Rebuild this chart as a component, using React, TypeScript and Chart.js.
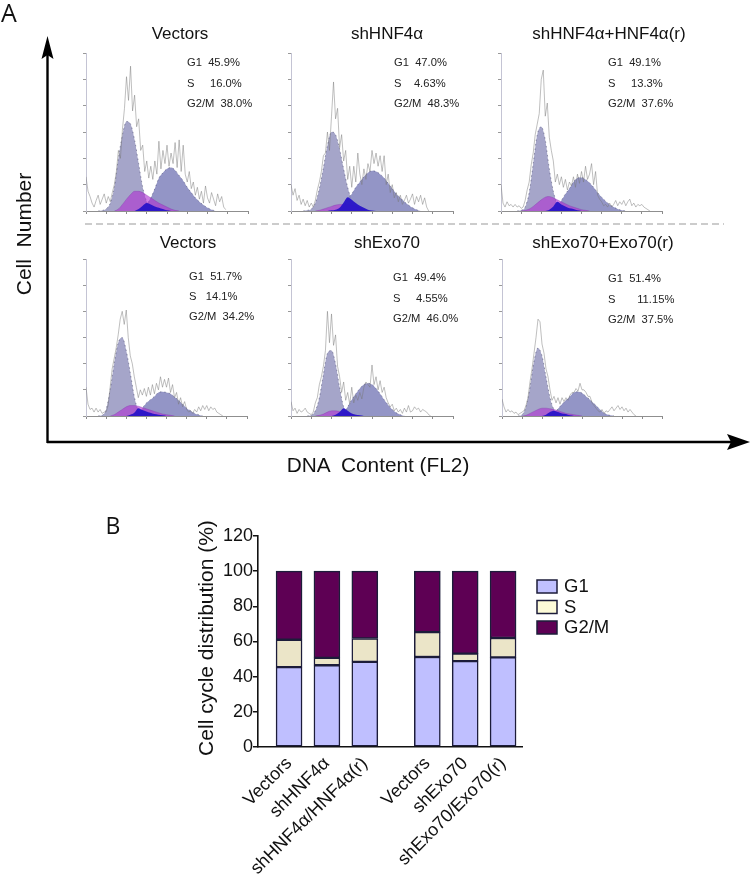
import React, { useEffect, useRef } from "react";
import { Chart, registerables } from "chart.js";

Chart.register(...registerables);

const SANS = '"Liberation Sans", Arial, sans-serif';

// ---------- Panel A: histogram traces (raw every 5 channels, fits every 10 channels) ----------
const rawVec1 = [26,15,11,6,3,8,12,5,9,13,6,11,7,14,20,30,46,40,62,78,102,84,110,76,88,64,70,46,50,30,38,25,34,24,38,28,53,32,46,36,50,34,44,36,52,33,54,30,50,28,22,30,17,22,12,18,9,15,6,19,10,6,14,9,4,13,7,11,3,1];
const g1Vec1 = [0,0,0,0,0.4,1.7,6,18,40,58,68,66,54,36,18,7,2,0.4,0];
const sVec1 = [0,0,0,0,0,0,0,0,1.5,5,9,12.5,15,15,14,12,10,8,6,4.5,3,1.5,0.5,0];
const g2Vec1 = [0,0,0,0,0,0,0,0,0,0,0,0,0,0,1,5,10,17,25,29,32,33,31,27,23,18,14,10,7,4.5,2.5,1,0];
const ovVec1 = [0,0,0,0,0,0,0,0,0,0,0,0,0,1.5,4,6,5,3.5,2.5,1.5,0.5,0];

const rawHnf = [20,12,17,8,12,5,9,4,8,3,6,3,8,16,22,30,42,44,60,46,72,98,70,78,48,58,38,46,24,34,18,34,22,44,28,20,32,24,36,30,46,36,44,34,42,30,42,20,28,14,20,10,14,7,12,5,8,12,6,9,13,5,11,7,12,5,10,3,0];
const g1Hnf = [0,0,0,0,0.5,1.5,6,17,33,50,60,58,47,32,18,8,3,1,0];
const sHnf = [0,0,0,0,0,0,0,0.5,1.5,2.5,3.5,4.5,5,5,5,4.5,3.5,2.5,1,0];
const g2Hnf = [0,0,0,0,0,0,0,0,0,0,0,0,0,3,9,13,18,22,26,29,30.5,30,28,25,21,17,13,10,7,4.5,2.5,1,0];
const ovHnf = [0,0,0,0,0,0,0,0,0,0,0.5,1,2.5,6.5,10.5,8.5,6,4,2.5,1,0.3,0];

const rawHnfR = [20,6,3,7,4,5,3,5,3,4,2,3,8,16,22,35,44,58,66,74,100,107,72,82,56,46,38,22,28,20,26,18,24,16,22,19,26,18,28,21,30,22,34,24,28,36,20,30,12,9,7,4,5,3,6,3,5,8,4,7,5,8,4,7,9,4,6,3,5,4,5,3,2,1,0];
const g1HnfR = [0,0,0,0,0,0.5,3,14,36,58,64,54,32,15,5,1,0];
const sHnfR = [0,0,0,0,0,0,0.5,1.5,3.5,6,8.5,10.5,11,10,8.5,7,5.5,4,3,2,1,0.5,0];
const g2HnfR = [0,0,0,0,0,0,0,0,0,0,0,0,0,0.5,3,8,13,17,22,25,25.5,24,21.5,18,14,10.5,7.5,5,3,1.5,0.5,0];
const ovHnfR = [0,0,0,0,0,0,0,0,0,0,0,0,1,3.5,7,5,3.5,2,1.5,0.5,0];

const rawVec2 = [22,9,5,6,3,6,3,5,2,3,3,8,22,36,44,52,62,74,80,70,81,60,46,40,30,22,14,20,16,21,15,22,16,24,17,25,20,30,22,28,22,29,18,24,14,18,9,14,7,11,5,3,4,2,5,3,7,4,8,5,8,4,7,5,6,3,2,1,0];
const g1Vec2 = [0,0,0,0,0.5,5,20,40,56,60,50,33,15,4,1,0];
const sVec2 = [0,0,0,0,0,0,0,1,3,5,7,8,8,7.5,6.5,5.5,4.5,3.5,2.5,1.5,1,0.5,0];
const g2Vec2 = [0,0,0,0,0,0,0,0,0,0,0,0,0,1,6,10,12.5,15,18,18.5,18,17,14.5,12,9,6,4,2,1,0];
const ovVec2 = [0,0,0,0,0,0,0,0,0,0,0,1,2.5,6,4.5,3.5,2.5,1.5,1,0.5,0];

const rawExo = [11,4,6,2,5,3,4,6,3,2,1,3,10,14,24,30,38,50,80,56,78,54,62,38,30,18,26,12,18,9,22,10,16,12,18,13,22,26,24,22,39,24,30,20,27,18,22,14,10,7,9,4,6,3,5,2,6,3,8,3,4,7,5,6,3,5,4,3,1,0];
const g1Exo = [0,0,0,0,0,0.5,4,14,32,48,50,40,22,7,1.5,0.5,0];
const sExo = [0,0,0,0,0,0,0,0.5,1.5,3,4,4,3.5,3,2.5,1.5,0.5,0];
const g2Exo = [0,0,0,0,0,0,0,0,0,0,0,0,0,2,7,12.5,17,21,24,25,24,21,17,12.5,8.5,5,2.5,1,0];
const ovExo = [0,0,0,0,0,0,0,0,0,0,0,1,3,6,4,2,1,0.5,0];

const rawExoR = [13,7,3,5,3,4,2,3,1,2,3,4,8,14,26,36,48,60,74,72,55,48,36,30,20,12,15,10,14,9,14,11,14,12,16,18,18,21,19,25,20,20,18,15,15,10,8,6,4,3,5,2,4,3,5,7,4,6,8,5,7,4,6,3,5,3,1,0];
const g1ExoR = [0,0,0,0,0,1,7,22,42,52,46,30,14,5,1.5,0.5,0];
const sExoR = [0,0,0,0,0,0,0.5,2,3.5,5,6,6,5.5,5,4,3,2,1.5,1,0.5,0];
const g2ExoR = [0,0,0,0,0,0,0,0,0,0,0,0,0,2,5.5,9,12,15,18,18.5,17.5,15,12.5,9.5,6.5,3.5,1.5,0.5,0];
const ovExoR = [0,0,0,0,0,0,0,0,0,0,0,1,3,4,3,2,1.5,0.5,0];

const histPanels = [
  { title: "Vectors", raw: rawVec1, g1: g1Vec1, s: sVec1, g2: g2Vec1, ov: ovVec1, stats: ["G1  45.9%", "S     16.0%", "G2/M  38.0%"] },
  { title: "shHNF4α", raw: rawHnf, g1: g1Hnf, s: sHnf, g2: g2Hnf, ov: ovHnf, stats: ["G1  47.0%", "S    4.63%", "G2/M  48.3%"] },
  { title: "shHNF4α+HNF4α(r)", raw: rawHnfR, g1: g1HnfR, s: sHnfR, g2: g2HnfR, ov: ovHnfR, stats: ["G1  49.1%", "S     13.3%", "G2/M  37.6%"] },
  { title: "Vectors", raw: rawVec2, g1: g1Vec2, s: sVec2, g2: g2Vec2, ov: ovVec2, stats: ["G1  51.7%", "S   14.1%", "G2/M  34.2%"] },
  { title: "shExo70", raw: rawExo, g1: g1Exo, s: sExo, g2: g2Exo, ov: ovExo, stats: ["G1  49.4%", "S     4.55%", "G2/M  46.0%"] },
  { title: "shExo70+Exo70(r)", raw: rawExoR, g1: g1ExoR, s: sExoR, g2: g2ExoR, ov: ovExoR, stats: ["G1  51.4%", "S       11.15%", "G2/M  37.5%"] },
];

// layout of the six panels, in page pixels
const panelBoxes = [
  { left: 86, right: 248, top: 53, bottom: 211, titleX: 180, titleY: 34, statX: 187, statY: 62, statGap: 20.5 },
  { left: 291, right: 453, top: 53, bottom: 211, titleX: 387, titleY: 34, statX: 394, statY: 62, statGap: 20.5 },
  { left: 501, right: 662, top: 53, bottom: 211, titleX: 609, titleY: 34, statX: 608, statY: 62, statGap: 20.5 },
  { left: 86, right: 247, top: 259, bottom: 416, titleX: 188, titleY: 243, statX: 189, statY: 276, statGap: 20 },
  { left: 291, right: 453, top: 259, bottom: 416, titleX: 387, titleY: 243, statX: 393, statY: 277, statGap: 20.5 },
  { left: 502, right: 662, top: 259, bottom: 416, titleX: 603, titleY: 243, statX: 608, statY: 278, statGap: 20.5 },
];

// ---------- Panel B: stacked bars ----------
const barLabels = ["Vectors", "shHNF4α", "shHNF4α/HNF4α(r)", "Vectors", "shExo70", "shExo70/Exo70(r)"];
const barPositions = [1, 2, 3, 4.65, 5.65, 6.65];
const g1Share = [45.4, 46.5, 48.4, 51.2, 48.8, 51];
const sShare = [15.6, 4.2, 13.3, 14.1, 4.3, 11];
const g2Share = [39, 49.3, 38.3, 34.7, 46.9, 38];
const legendSwatches = ["#c0c0ff", "#fdfbd8", "#5e0054"];

const toRaw = (vals: number[]) => vals.map((y, i) => ({ x: i * 5, y }));
const toCurve = (vals: number[]) =>
  vals
    .map((y, i) => ({ x: i * 10, y, keep: y > 0 || vals[i - 1] > 0 || vals[i + 1] > 0 }))
    .filter((p) => p.keep)
    .map(({ x, y }) => ({ x, y }));

const curveSet = (label: string, vals: number[], fill: string, order: number, line: string, dash: number[]) => ({
  label,
  data: toCurve(vals),
  backgroundColor: fill,
  borderColor: line,
  borderWidth: 0.7,
  borderDash: dash,
  fill: "origin",
  pointRadius: 0,
  cubicInterpolationMode: "monotone",
  order,
});

const legendPlugin = {
  id: "sideLegend",
  afterDraw(chart: any) {
    const ctx = chart.ctx;
    const ox = 537 - 190;
    const oy = 580 - 520;
    chart.data.datasets.forEach((d: any, i: number) => {
      const y = oy + i * 20.5;
      ctx.save();
      ctx.fillStyle = legendSwatches[i];
      ctx.strokeStyle = "#1c1c3a";
      ctx.lineWidth = 1.5;
      ctx.fillRect(ox, y, 20, 13);
      ctx.strokeRect(ox, y, 20, 13);
      ctx.fillStyle = "#111";
      ctx.font = `18.5px ${SANS}`;
      ctx.textBaseline = "middle";
      ctx.fillText(d.label, ox + 27, y + 7);
      ctx.restore();
    });
  },
};

const rootStyle: React.CSSProperties = {
  position: "absolute",
  left: 0,
  top: 0,
  width: 751,
  height: 883,
  overflow: "hidden",
  background: "#fff",
  color: "#111",
  fontFamily: SANS,
  filter: "blur(0.35px)",
};

const PAD = 8;

export default function App() {
  const histRefs = useRef<(HTMLCanvasElement | null)[]>([]);
  const barRef = useRef<HTMLCanvasElement | null>(null);

  useEffect(() => {
    const charts: Chart[] = [];
    histPanels.forEach((p, i) => {
      const canvas = histRefs.current[i];
      if (!canvas) return;
      charts.push(
        new Chart(canvas, {
          type: "line",
          data: {
            datasets: [
              { label: "Measured", data: toRaw(p.raw), borderColor: "rgba(120,120,120,0.8)", borderWidth: 0.6, pointRadius: 0, fill: false, tension: 0, order: 0 },
              curveSet("Overlap", p.ov, "rgba(40,20,200,0.95)", 1, "rgba(0,0,0,0)", []),
              curveSet("S", p.s, "rgba(175,50,210,0.62)", 2, "rgba(120,40,160,0.4)", []),
              curveSet("G2/M", p.g2, "rgba(135,138,192,0.9)", 3, "rgba(40,40,80,0.6)", [1.5, 3]),
              curveSet("G1", p.g1, "rgba(160,160,198,0.95)", 4, "rgba(40,40,80,0.6)", [1.5, 3]),
            ] as any,
          },
          options: {
            animation: false,
            responsive: false,
            parsing: { xAxisKey: "x", yAxisKey: "y" },
            layout: { padding: { left: PAD - 3, right: PAD, top: PAD, bottom: PAD - 3 } },
            plugins: { legend: { display: false }, tooltip: { enabled: false } },
            scales: {
              x: {
                type: "linear",
                min: 0,
                max: 400,
                afterFit: (s: any) => { s.height = 3; },
                ticks: { stepSize: 50, display: false },
                grid: { drawOnChartArea: false, tickLength: 3, color: "#8a8a8a" },
                border: { color: "#8f8f8f", width: 1 },
              },
              y: {
                min: 0,
                max: 120,
                afterFit: (s: any) => { s.width = 3; },
                ticks: { stepSize: 20, display: false },
                grid: { drawOnChartArea: false, tickLength: 3, color: "#999" },
                border: { color: "#c4c4d4", width: 1 },
              },
            },
          },
        } as any),
      );
    });

    if (barRef.current) {
      const mk = (label: string, vals: number[], color: string) => ({
        label,
        data: vals.map((y, i) => ({ x: barPositions[i], y })),
        backgroundColor: color,
        borderColor: "#1c1c3a",
        borderWidth: 1.5,
        borderSkipped: false,
        barThickness: 26,
      });
      charts.push(
        new Chart(barRef.current, {
          type: "bar",
          data: {
            datasets: [
              mk("G1", g1Share, "#bfbfff"),
              mk("S", sShare, "#ebe5c8"),
              mk("G2/M", g2Share, "#5e0054"),
            ] as any,
          },
          plugins: [legendPlugin],
          options: {
            animation: false,
            responsive: false,
            layout: { padding: { top: 16, left: 4, right: 108, bottom: 0 } },
            plugins: { legend: { display: false }, tooltip: { enabled: false } },
            scales: {
              x: {
                type: "linear",
                stacked: true,
                offset: false,
                min: 0.18,
                max: 7.15,
                afterBuildTicks: (s: any) => { s.ticks = barPositions.map((value) => ({ value })); },
                afterFit: (s: any) => { s.height = 136; },
                ticks: {
                  autoSkip: false,
                  minRotation: 45,
                  maxRotation: 45,
                  padding: 2,
                  color: "#111",
                  font: { family: SANS, size: 18 },
                  callback: (v: any) => barLabels[barPositions.indexOf(v)] ?? "",
                },
                grid: { display: false, tickLength: 4 },
                border: { color: "#111", width: 1.6 },
              },
              y: {
                stacked: true,
                min: 0,
                max: 120,
                afterFit: (s: any) => { s.width = 64; },
                ticks: { stepSize: 20, color: "#111", padding: 0, font: { family: SANS, size: 18 } },
                grid: { drawOnChartArea: false, tickLength: 5, color: "#111", lineWidth: 1.5 },
                border: { color: "#111", width: 1.6 },
              },
            },
          },
        } as any),
      );
    }
    return () => charts.forEach((c) => c.destroy());
  }, []);

  const centered = (x: number, y: number): React.CSSProperties => ({
    position: "absolute",
    left: x,
    top: y,
    transform: "translate(-50%,-50%)",
    whiteSpace: "pre",
  });

  return (
    <div style={rootStyle}>
      {panelBoxes.map((b, i) => (
        <canvas
          key={i}
          ref={(el) => { histRefs.current[i] = el; }}
          width={b.right - b.left + PAD * 2}
          height={b.bottom - b.top + PAD * 2}
          style={{ position: "absolute", left: b.left - PAD, top: b.top - PAD, width: b.right - b.left + PAD * 2, height: b.bottom - b.top + PAD * 2 }}
        />
      ))}
      <canvas ref={barRef} width={440} height={363} style={{ position: "absolute", left: 190, top: 520, width: 440, height: 363 }} />

      <svg width={751} height={883} style={{ position: "absolute", left: 0, top: 0, pointerEvents: "none" }}>
        <line x1={85} y1={224} x2={724} y2={224} stroke="#999" strokeWidth={1} strokeDasharray="7 4" />
        <line x1={47.5} y1={443} x2={47.5} y2={50} stroke="#000" strokeWidth={2.4} />
        <polygon points="47.5,36 41.5,59 47.5,55 53.5,59" fill="#000" />
        <line x1={47} y1={442} x2={735} y2={442} stroke="#000" strokeWidth={2.4} />
        <polygon points="750,442 727,434 731,442 727,450" fill="#000" />
      </svg>

      {histPanels.map((p, i) => {
        const b = panelBoxes[i];
        return (
          <React.Fragment key={i}>
            <div style={{ ...centered(b.titleX, b.titleY), fontSize: 17 }}>{p.title}</div>
            {p.stats.map((t, j) => (
              <div key={j} style={{ position: "absolute", left: b.statX, top: b.statY + j * b.statGap, transform: "translateY(-50%)", whiteSpace: "pre", fontSize: 11.2, color: "#222" }}>{t}</div>
            ))}
          </React.Fragment>
        );
      })}

      <div style={{ ...centered(9, 12), fontSize: 25, fontFamily: '"Open Sans", sans-serif' }}>A</div>
      <div style={{ ...centered(113, 525), fontSize: 23, fontFamily: '"Open Sans", sans-serif' }}>B</div>
      <div style={{ ...centered(24, 234), transform: "translate(-50%,-50%) rotate(-90deg)", fontSize: 21 }}>{"Cell  Number"}</div>
      <div style={{ ...centered(378, 465), fontSize: 20.8 }}>{"DNA  Content (FL2)"}</div>
      <div style={{ ...centered(206, 638), transform: "translate(-50%,-50%) rotate(-90deg)", fontSize: 21 }}>{"Cell cycle distribution (%)"}</div>
    </div>
  );
}
